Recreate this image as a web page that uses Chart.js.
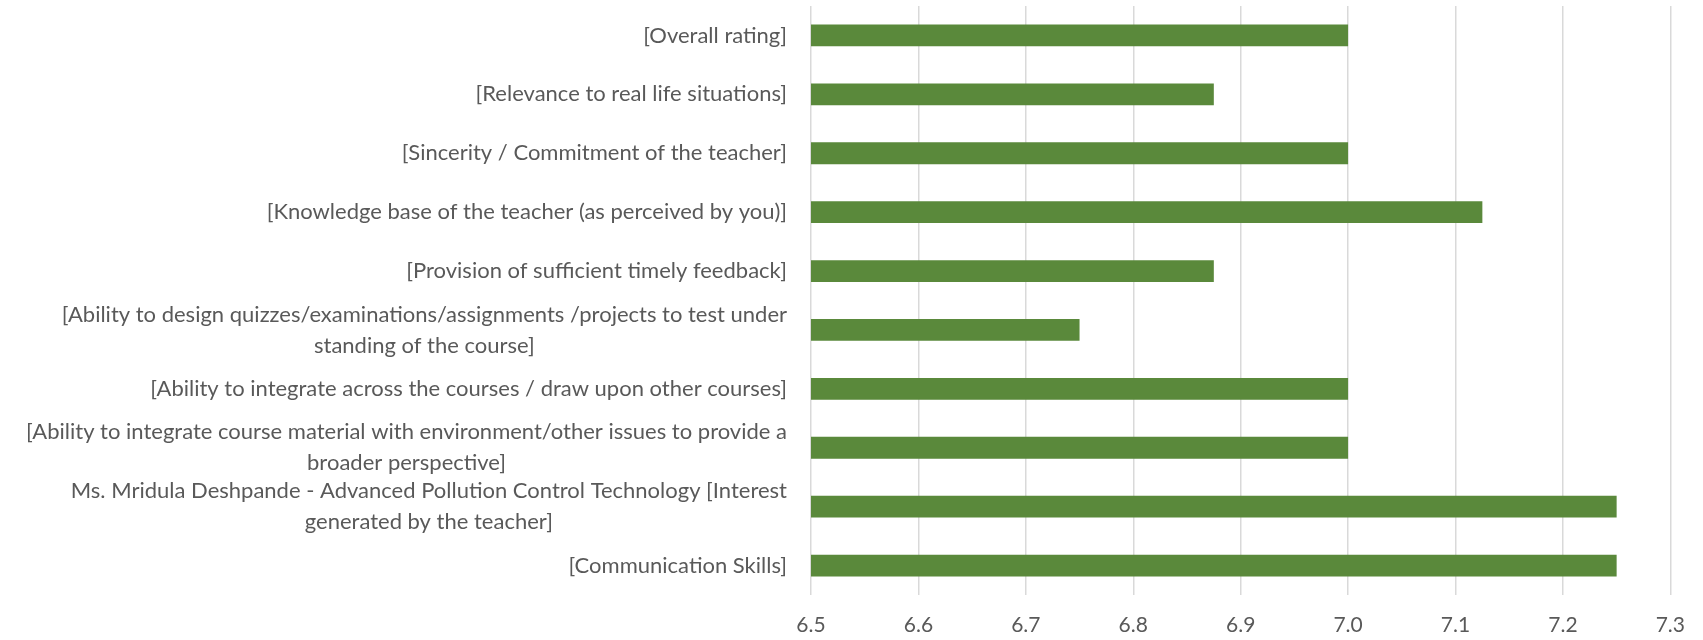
<!DOCTYPE html>
<html>
<head>
<meta charset="utf-8">
<script src="https://cdn.jsdelivr.net/npm/chart.js@4"></script>
<style>
  html, body { margin: 0; padding: 0; background: #fff; }
  #wrap { width: 1703px; height: 640px; }
</style>
</head>
<body>
<div id="wrap"><canvas id="scores"></canvas></div>
<script>
// categories, top to bottom; each entry is the wrapped lines of the label
const categories = [
  ['[Overall rating]'],
  ['[Relevance to real life situations]'],
  ['[Sincerity / Commitment of the teacher]'],
  ['[Knowledge base of the teacher (as perceived by you)]'],
  ['[Provision of sufficient timely feedback]'],
  ['[Ability to design quizzes/examinations/assignments /projects to test under', 'standing of the course]'],
  ['[Ability to integrate across the courses / draw upon other courses]'],
  ['[Ability to integrate course material with environment/other issues to provide a', 'broader perspective]'],
  ['Ms. Mridula Deshpande - Advanced Pollution Control Technology [Interest', 'generated by the teacher]'],
  ['[Communication Skills]']
];
const scores = [7.0, 6.875, 7.0, 7.125, 6.875, 6.75, 7.0, 7.0, 7.25, 7.25];
const xTicks = [6.5, 6.6, 6.7, 6.8, 6.9, 7.0, 7.1, 7.2, 7.3];

const textColor = '#595959';
const fontFamily = 'Lato, "Open Sans", sans-serif';
const labelFont = '22px ' + fontFamily;
const lineGap = 31;

// category labels: block right-aligned to the axis, lines centred within the block
const sideLabels = {
  id: 'sideLabels',
  afterDraw(chart) {
    const { ctx, chartArea, scales: { y } } = chart;
    const right = chartArea.left - 24;
    ctx.save();
    ctx.font = labelFont;
    ctx.fillStyle = textColor;
    ctx.textAlign = 'center';
    ctx.textBaseline = 'middle';
    categories.forEach((lines, i) => {
      const yc = y.getPixelForValue(i);
      const w = Math.max(...lines.map(l => ctx.measureText(l).width));
      const cx = right - w / 2;
      lines.forEach((l, j) => {
        ctx.fillText(l, cx, yc + (j - (lines.length - 1) / 2) * lineGap);
      });
    });
    ctx.restore();
  }
};

new Chart(document.getElementById('scores'), {
  type: 'bar',
  data: {
    labels: categories.map(c => c.join(' ')),
    datasets: [{
      data: scores,
      backgroundColor: '#5a893b',
      borderWidth: 0,
      barPercentage: 0.37,
      categoryPercentage: 1
    }]
  },
  options: {
    indexAxis: 'y',
    responsive: true,
    maintainAspectRatio: false,
    animation: false,
    layout: { padding: { left: 811, right: 31, top: 6, bottom: 0 } },
    plugins: { legend: { display: false }, tooltip: { enabled: false } },
    scales: {
      x: {
        min: xTicks[0],
        max: xTicks[xTicks.length - 1],
        afterBuildTicks: scale => { scale.ticks = xTicks.map(v => ({ value: v })); },
        afterFit: scale => { scale.height = 45; },
        grid: { color: '#d9d9d9', lineWidth: 1.5, drawTicks: false },
        border: { display: false },
        ticks: {
          color: textColor,
          font: { family: fontFamily, size: 21 },
          padding: 18,
          callback: v => Number(v).toFixed(1)
        }
      },
      y: {
        afterFit: scale => { scale.width = 0; },
        grid: { display: false },
        border: { display: false },
        ticks: { display: false }
      }
    }
  },
  plugins: [sideLabels]
});
</script>
</body>
</html>
